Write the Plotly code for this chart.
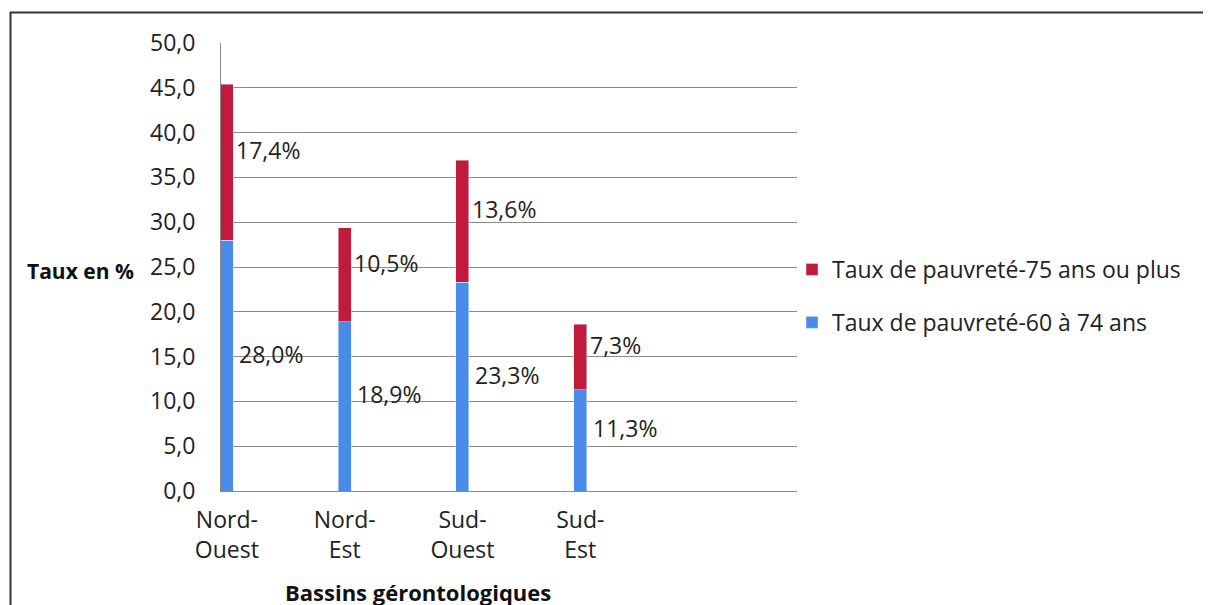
import plotly.graph_objects as go

# ---- data ----
categories = ["Nord-<br>Ouest", "Nord-<br>Est", "Sud-<br>Ouest", "Sud-<br>Est"]
taux_60_74 = [28.0, 18.9, 23.3, 11.3]
taux_75_plus = [17.4, 10.5, 13.6, 7.3]
series_names = ["Taux de pauvreté-60 à 74 ans", "Taux de pauvreté-75 ans ou plus"]
y_ticks = [0, 5, 10, 15, 20, 25, 30, 35, 40, 45, 50]

# ---- style ----
W, H = 1211, 605
OFF = 8  # page body margin
ML, MR, MT, MB = 221 - OFF, 1211 - 797 + OFF, 43 - OFF, 605 - 491 + OFF
BLUE = "#4A8BEA"
RED = "#C11A3C"
FONT = "Open Sans"
FS = 23
BAR_W = 0.11
LABEL_YSHIFT = 12

fig = go.Figure()
fig.add_trace(go.Bar(x=categories, y=taux_60_74, name=series_names[0],
                     marker_color=BLUE, width=BAR_W, legendgroup="a", legendrank=2))
fig.add_trace(go.Bar(x=categories, y=taux_75_plus, name=series_names[1],
                     marker_color=RED, width=BAR_W, legendgroup="b", legendrank=1))


def fmt(v):
    return f"{v:.1f}".replace(".", ",") + "%"


pw = W - ML - MR
ph = H - MT - MB
xr = [-0.05, 4.84]
bar_half_px = BAR_W / 2 * pw / (xr[1] - xr[0])
for i, c in enumerate(categories):
    a, b = taux_60_74[i], taux_75_plus[i]
    fig.add_annotation(x=c, y=a / 2, text=fmt(a), showarrow=False,
                       xanchor="left", xshift=bar_half_px + 4, yshift=LABEL_YSHIFT,
                       font=dict(family=FONT, size=FS, color="#222"))
    fig.add_annotation(x=c, y=a + b / 2, text=fmt(b), showarrow=False,
                       xanchor="left", xshift=bar_half_px + 1, yshift=LABEL_YSHIFT,
                       font=dict(family=FONT, size=FS, color="#222"))


def px_x(page_x):
    return (page_x - OFF - ML) / pw


def px_y(page_y):
    return (H - MB - (page_y - OFF)) / ph


# axis titles as annotations
fig.add_annotation(xref="paper", yref="paper", x=px_x(80), y=px_y(271),
                   xanchor="center", yanchor="middle",
                   text="<b>Taux en %</b>", showarrow=False,
                   font=dict(family=FONT, size=21, color="#111"))
fig.add_annotation(xref="paper", yref="paper", x=px_x(418), y=px_y(592),
                   xanchor="center", yanchor="middle",
                   text="<b>Bassins gérontologiques</b>", showarrow=False,
                   font=dict(family=FONT, size=22, color="#111"))

# outer frame
fig.add_shape(type="rect", xref="paper", yref="paper",
              x0=px_x(10.5), x1=px_x(W + 20),
              y0=px_y(H + 20), y1=px_y(12.5),
              line=dict(color="#333", width=2), fillcolor="rgba(0,0,0,0)", layer="below")

fig.update_layout(
    width=W, height=H,
    margin=dict(l=ML, r=MR, t=MT, b=MB, pad=0),
    barmode="stack",
    separators=", ",
    plot_bgcolor="white", paper_bgcolor="white",
    font=dict(family=FONT, size=FS, color="#222"),
    showlegend=True,
    legend=dict(x=px_x(792), xanchor="left", y=px_y(296), yanchor="middle",
                traceorder="grouped", tracegroupgap=20,
                itemwidth=30, font=dict(family=FONT, size=FS, color="#222"),
                bgcolor="rgba(0,0,0,0)"),
    xaxis=dict(type="category", range=xr, showgrid=False, showline=True,
               linecolor="#8a8a8a", linewidth=1, ticks="", tickangle=0,
               ticklabelstandoff=8,
               tickfont=dict(family=FONT, size=FS, color="#222")),
    yaxis=dict(range=[0, 50], tickvals=y_ticks, tickformat=".1f",
               showgrid=True, gridcolor="#8a8a8a", gridwidth=1,
               showline=True, linecolor="#8a8a8a", linewidth=1, ticks="",
               ticklabelstandoff=20, zeroline=False,
               tickfont=dict(family=FONT, size=FS, color="#222")),
)

fig.write_html("out.html")
